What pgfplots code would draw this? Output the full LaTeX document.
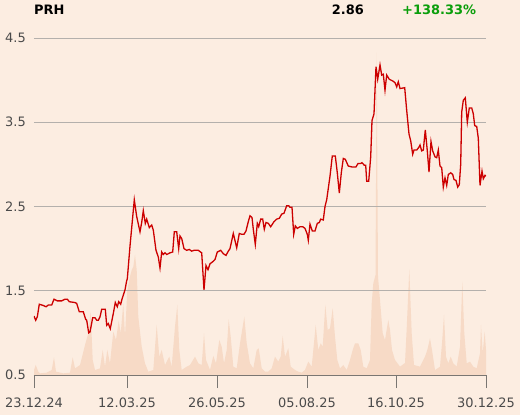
\documentclass[border=0pt]{standalone}
\usepackage{pgfplots}
\pgfplotsset{compat=1.18}
\usepackage{fontspec}
\setmainfont{DejaVu Sans}
\definecolor{bg}{HTML}{FCEDE1}
\definecolor{volc}{HTML}{F7DAC6}
\definecolor{pricec}{HTML}{CC0000}
\definecolor{gridc}{HTML}{B4B0AC}
\definecolor{axisc}{HTML}{7A7672}
\definecolor{labc}{HTML}{4A4A4A}
\definecolor{upc}{HTML}{0A9E0A}

% volume (arbitrary units, drawn behind the price)
\pgfplotstableread{
x v
0 15
1.7 30
4.3 10
6 5
12.7 7
17.7 15
20 53
22 10
29.3 5
36 7
38.7 53
41 20
46 30
51 90
54.3 125
56.7 190
58.7 45
61 15
66 20
68.7 75
71 25
73.3 75
76 35
79.3 130
82 105
84.7 163
86.7 125
89.3 215
91 115
93.3 255
96 295
97.7 315
99.3 325
101 360
102.7 315
104.3 175
107.7 85
111 35
114.3 10
119.3 15
122.7 150
125.3 55
127.7 75
131 30
135.3 55
137.7 25
141 145
143.3 210
145.3 75
147.7 15
152.7 25
156 30
161 55
164.3 35
167.7 30
170 125
172 45
176 15
179.3 57
182 35
185.3 105
187.7 85
190 35
192.7 75
194.7 167
196.7 115
199.3 25
202.7 20
206 95
210.3 175
212.7 95
216 35
219.3 20
222.7 75
224.7 80
227.7 20
231 10
234.3 10
237.7 20
241 55
244.3 40
246.7 55
248.7 117
251 55
254.3 80
256.7 25
261 15
264.3 10
267.7 7
271 15
274.3 40
277.7 25
281.7 150
284.3 75
286.7 95
288.7 85
291.3 210
293.7 135
296 140
298.7 200
301 115
303.3 45
306 20
309.3 30
312.7 15
316 45
318.7 75
321 95
324.3 95
326.7 75
329.3 25
332.7 20
336 45
337.7 215
339.3 275
341.5 300
342.7 967
344 295
346 225
348.7 125
351 105
354.3 165
356 135
358 75
361 45
366 25
371 36
372.7 140
375.3 317
377.7 125
380 30
386 25
391 55
393.3 75
396 110
398 75
401 15
406 25
408 95
410 180
412 55
414.3 35
416.7 55
419.3 35
422.7 25
426 85
428.3 280
430.3 125
432.7 35
436 40
439.3 25
442.7 20
446 65
447 150
448.7 65
450.7 130
452 75
}\volume

\pgfplotstableread{
x p
0 1.20
1.7 1.15
3.3 1.19
5.3 1.34
9.3 1.325
12 1.31
14.3 1.33
17.7 1.33
20 1.40
23.3 1.38
27.7 1.38
31 1.40
33.3 1.40
35.3 1.37
41 1.36
42.7 1.35
45.3 1.25
49.3 1.25
51.7 1.16
52.7 1.15
54.7 1.00
56 1.01
58.7 1.18
61 1.18
62.7 1.15
64.3 1.15
66 1.19
67.7 1.28
71.3 1.28
72.7 1.09
74.3 1.11
76.3 1.05
79.3 1.23
81.3 1.36
83.3 1.31
84.7 1.37
86.7 1.34
88 1.40
91 1.51
92.7 1.62
93.3 1.64
96 2.03
100.3 2.58
102.7 2.38
106 2.20
107.7 2.31
109.3 2.45
111.3 2.30
112.7 2.35
115.3 2.25
117.7 2.28
119.3 2.22
122 1.98
124.3 1.90
126 1.77
127.7 1.96
129.3 1.93
131 1.95
132.7 1.93
136 1.95
138.7 1.96
140.3 2.20
142.7 2.20
144.7 2.00
146 2.15
147.7 2.12
150 2.00
152.7 1.98
155.3 1.99
157.7 1.97
160 1.98
164.3 1.98
167.7 1.95
170 1.51
172 1.80
174 1.75
176 1.82
179.3 1.85
181 1.87
183.3 1.96
186.7 1.98
189.3 1.94
192 1.92
194.3 1.97
196 2.00
199.3 2.18
202.7 2.01
205.3 2.18
207.7 2.17
210 2.17
212 2.21
214.3 2.32
216 2.39
218 2.37
219.3 2.23
221.3 2.05
223.3 2.30
224.7 2.26
226.7 2.35
228.7 2.35
230.3 2.23
232 2.31
234.3 2.30
236.7 2.26
240 2.32
242.7 2.35
245.3 2.36
247.7 2.41
250 2.42
252.7 2.51
254.7 2.51
256 2.49
258 2.49
259.7 2.17
261.3 2.27
263.3 2.24
266 2.26
268.7 2.26
271 2.24
273.3 2.17
274.3 2.10
276 2.29
278.3 2.21
281 2.21
283.3 2.30
285.3 2.31
286.7 2.35
289.3 2.34
291 2.50
292.7 2.58
296 2.86
298.3 3.10
301.3 3.10
303.3 2.90
305.3 2.66
307.3 2.90
309.3 3.07
311.3 3.06
314.3 2.98
317.7 2.97
322 2.97
324 3.01
326.7 3.01
328 3.02
330.3 2.99
331.7 2.99
332.7 2.80
334.7 2.80
336.7 3.09
338 3.52
340 3.60
342 4.16
343.7 4.01
346 4.18
347.7 4.06
349.3 4.07
351 3.88
352.7 4.06
355.3 4.01
358.7 3.99
361 3.97
362.7 3.92
364.3 3.98
366 3.90
370.7 3.91
372.7 3.64
375 3.36
376.7 3.28
378.7 3.12
380 3.17
382.7 3.17
384.7 3.20
386 3.23
387.7 3.16
389.3 3.17
391.3 3.41
393.3 3.16
395 2.91
397 3.27
398.7 3.16
401 3.09
402.7 3.08
404.3 3.17
406 2.98
407.7 2.96
409.3 2.73
411 2.84
412.7 2.75
414.3 2.88
416.7 2.90
418.7 2.88
420 2.82
422 2.81
423.7 2.73
425.3 2.76
426.7 3.00
427.7 3.62
429.3 3.76
431.3 3.79
433.3 3.50
435.3 3.67
437.7 3.67
439.3 3.60
440.7 3.46
442.7 3.45
444.3 3.31
446 2.75
448 2.92
449.3 2.83
451 2.87
452 2.86
}\price

\begin{document}
\begin{tikzpicture}
\useasboundingbox (-34bp,-40bp) rectangle (486bp,375bp);
\fill[bg] (-34bp,-40bp) rectangle (486bp,375bp);

\begin{axis}[
    at={(0,0)}, anchor=south west,
    scale only axis, width=452bp, height=337bp,
    xmin=0, xmax=452, ymin=0, ymax=1011,
    hide axis,
]
\addplot[fill=volc, draw=none] table[x=x, y=v] {\volume} \closedcycle;
\end{axis}

\begin{axis}[
    at={(0,0)}, anchor=south west,
    scale only axis, width=452bp, height=337bp,
    xmin=0, xmax=452, ymin=0.5, ymax=4.5,
    axis x line*=bottom, axis y line*=left,
    y axis line style={draw=none},
    x axis line style={axisc, line width=0.8bp},
    ytick={0.5,1.5,2.5,3.5,4.5},
    ymajorgrids,
    grid style={gridc, line width=0.8bp},
    xtick={0,93,183,273,362,452},
    xticklabels={23.12.24,12.03.25,26.05.25,05.08.25,16.10.25,30.12.25},
    tick align=outside,
    major tick length=13bp,
    xtick style={axisc, line width=0.8bp},
    ytick style={draw=none},
    ticklabel style={font=\fontsize{13}{15}\selectfont, text=labc},
    x tick label style={inner sep=0pt, yshift=-10bp},
    y tick label style={inner sep=0pt, xshift=5bp},
    /pgf/number format/assume math mode=true,
    yticklabel style={/pgf/number format/fixed, /pgf/number format/precision=1, /pgf/number format/fixed zerofill},
]
\addplot[pricec, line width=1.3bp, mark=none] table[x=x, y=p] {\price};
\end{axis}

\node[anchor=base west, inner sep=0pt, font=\fontsize{13}{15}\selectfont\bfseries] at (0bp,360bp) {PRH};
\node[anchor=base east, inner sep=0pt, font=\fontsize{13}{15}\selectfont\bfseries] at (330bp,360bp) {2.86};
\node[anchor=base west, inner sep=0pt, font=\fontsize{13}{15}\selectfont\bfseries, text=upc] at (368bp,360bp) {+138.33\%};
\end{tikzpicture}
\end{document}
